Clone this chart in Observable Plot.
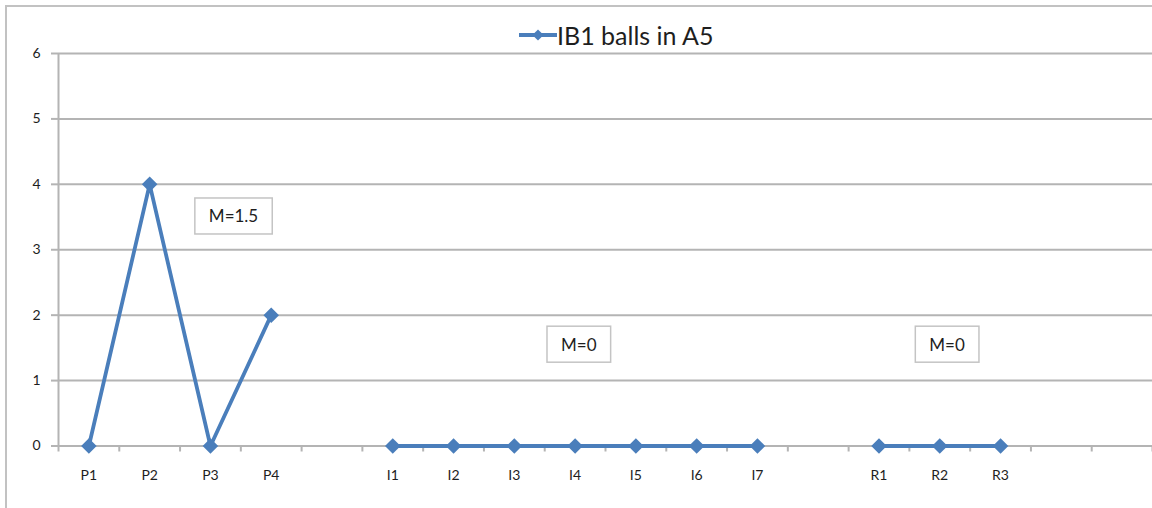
<!DOCTYPE html>
<html>
<head>
<meta charset="utf-8">
<script src="https://cdn.jsdelivr.net/npm/d3@7"></script>
<script src="https://cdn.jsdelivr.net/npm/@observablehq/plot@0.6"></script>
<style>
  body { margin: 0; background: #fff; font-family: Lato, "Open Sans", sans-serif; }
  #wrap { position: relative; width: 1152px; height: 508px; overflow: hidden; background: #fff; }
  #frame { position: absolute; left: 5px; top: 5px; width: 1300px; height: 700px; border: 2px solid #c2c2c2; box-sizing: border-box; pointer-events: none; z-index: 2; }
  #legend { position: absolute; left: 0; top: 0; width: 1152px; height: 44px; }
  #legend .item { position: absolute; left: 519px; top: 19px; display: flex; align-items: center; height: 32px; }
  #legend .label { font-size: 25px; color: #1e1e1e; line-height: 32px; }
  #chart { position: absolute; left: 0; top: 44px; }
</style>
</head>
<body>
<div id="wrap">
  <div id="legend"></div>
  <div id="chart"></div>
  <div id="frame"></div>
</div>
<script>
// ---- data ----
const seriesName = "IB1 balls in A5";
const slots = ["P1","P2","P3","P4","","I1","I2","I3","I4","I5","I6","I7","","R1","R2","R3","",""];
const pLabels = ["P1","P2","P3","P4"];
const pValues = [0, 4, 0, 2];
const iLabels = ["I1","I2","I3","I4","I5","I6","I7"];
const iValues = [0, 0, 0, 0, 0, 0, 0];
const rLabels = ["R1","R2","R3"];
const rValues = [0, 0, 0];
const yTicks = [0, 1, 2, 3, 4, 5, 6];
const annoLabels = ["M=1.5", "M=0", "M=0"];
const annoX = [2.88, 8.56, 14.62];   // in category-slot units
const annoY = [3.5, 1.54, 1.54];

// ---- build rows ----
const rows = [];
[[pLabels, pValues, "P"], [iLabels, iValues, "I"], [rLabels, rValues, "R"]].forEach(([labs, vals, g]) => {
  labs.forEach((l, i) => rows.push({ slot: l, group: g, value: vals[i], pos: slots.indexOf(l) + 0.5 }));
});
const annos = annoLabels.map((t, i) => ({ text: t, x: annoX[i], y: annoY[i] }));
const labelTicks = slots.map((s, i) => ({ s, p: i + 0.5 })).filter(d => d.s !== "");

const blue = "#4a7ebb";
const grid = "#b4b4b4";

const chart = Plot.plot({
  width: 1152,
  height: 464,
  marginTop: 9,
  marginBottom: 62.5,
  marginLeft: 58,
  marginRight: 0,
  style: { fontFamily: "Lato, 'Open Sans', sans-serif", background: "transparent", color: "#1e1e1e" },
  x: { type: "linear", domain: [0, slots.length], axis: null },
  y: { domain: [0, 6], axis: null },
  marks: [
    Plot.gridY(yTicks, { stroke: grid, strokeWidth: 2, strokeOpacity: 1 }),
    Plot.ruleX([0], { stroke: grid, strokeWidth: 2 }),
    Plot.axisY({ ticks: yTicks, tickSize: 7, tickPadding: 11, stroke: grid, strokeWidth: 2, strokeOpacity: 1, fontSize: 14, fill: "#1e1e1e", tickFormat: d => String(d) }),
    Plot.axisX({ ticks: d3.range(0, slots.length + 1), tickSize: 6, tickFormat: () => "", stroke: grid, strokeWidth: 2, strokeOpacity: 1 }),
    Plot.axisX({ ticks: labelTicks.map(d => d.p), tickSize: 0, tickPadding: 24, fontSize: 14, fill: "#1e1e1e",
      tickFormat: p => slots[Math.floor(p)] }),
    Plot.line(rows, { x: "pos", y: "value", z: "group", stroke: blue, strokeWidth: 3.8, strokeLinejoin: "miter" }),
    Plot.dot(rows, { x: "pos", y: "value", symbol: "diamond2", r: 7, fill: blue, stroke: "none" }),
    Plot.text(annos, { x: "x", y: "y", text: "text", fontSize: 17, fill: "#1e1e1e" })
  ]
});
document.getElementById("chart").appendChild(chart);

// boxes behind annotation texts
d3.select(chart).selectAll('g[aria-label="text"] text').each(function () {
  const b = this.getBBox();
  const padX = 14, padY = 7.5;
  d3.select(this.parentNode).insert("rect", () => this)
    .attr("transform", this.getAttribute("transform"))
    .attr("x", b.x - padX).attr("y", b.y - padY)
    .attr("width", b.width + 2 * padX).attr("height", b.height + 2 * padY)
    .attr("fill", "#fff").attr("stroke", "#c4c4c4").attr("stroke-width", 1.5);
});

// legend
const leg = d3.select("#legend").append("div").attr("class", "item");
const sw = leg.append("svg").attr("width", 38).attr("height", 14);
sw.append("line").attr("x1", 0).attr("x2", 38).attr("y1", 7).attr("y2", 7).attr("stroke", blue).attr("stroke-width", 3.8);
sw.append("path").attr("d", d3.symbol(d3.symbolDiamond2, 80)()).attr("transform", "translate(19,7)").attr("fill", blue);
leg.append("span").attr("class", "label").text(seriesName);
</script>
</body>
</html>
